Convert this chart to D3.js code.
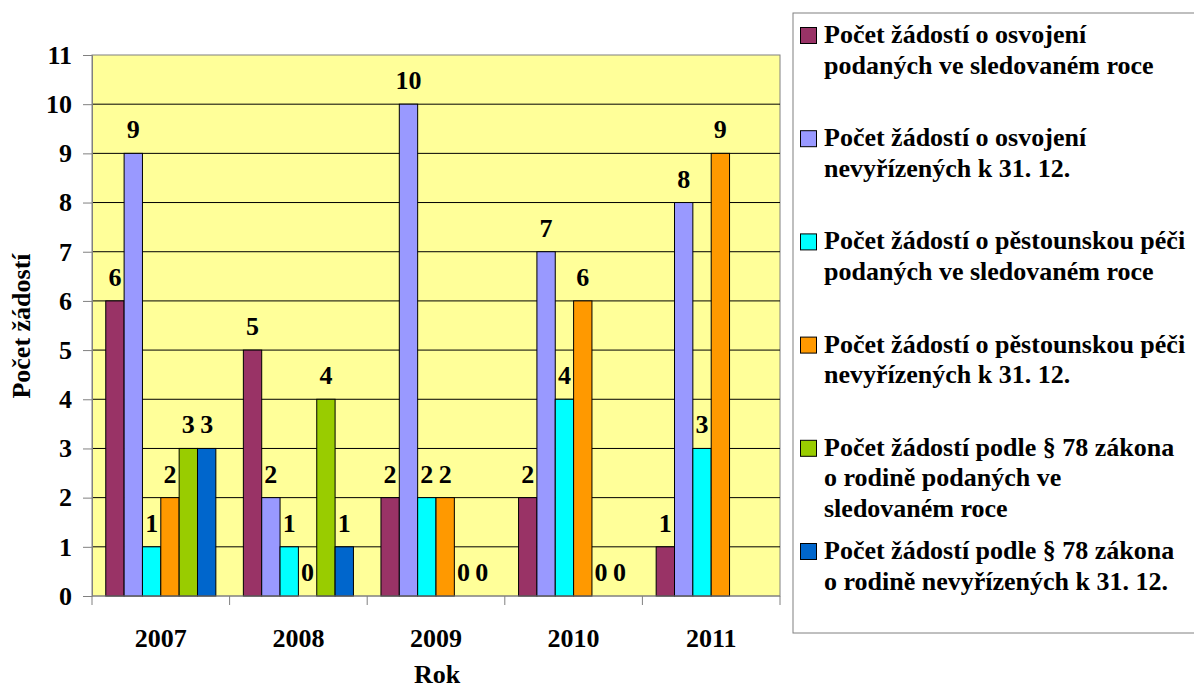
<!DOCTYPE html>
<html>
<head>
<meta charset="utf-8">
<script src="https://cdn.jsdelivr.net/npm/d3@7"></script>
<style>
  body { margin: 0; background: #fff; }
  text { font-family: "Liberation Serif", "Times New Roman", serif; font-weight: bold; }
</style>
</head>
<body>
<svg id="chart" width="1194" height="689"></svg>
<script>
var years = ["2007", "2008", "2009", "2010", "2011"];
var seriesNames = [
  ["Počet žádostí o osvojení", "podaných ve sledovaném roce"],
  ["Počet žádostí o osvojení", "nevyřízených k 31. 12."],
  ["Počet žádostí o pěstounskou péči", "podaných ve sledovaném roce"],
  ["Počet žádostí o pěstounskou péči", "nevyřízených k 31. 12."],
  ["Počet žádostí podle § 78 zákona", "o rodině podaných ve", "sledovaném roce"],
  ["Počet žádostí podle § 78 zákona", "o rodině nevyřízených k 31. 12."]
];
var colors = ["#993366", "#9999FF", "#00FFFF", "#FF9900", "#99CC00", "#0066CC"];
// values per series, one per year (null = not shown)
var adoptFiled   = [6, 5, 2, 2, 1];
var adoptPending = [9, 2, 10, 7, 8];
var fosterFiled  = [1, 1, 2, 4, 3];
var fosterPending = [2, 0, 2, 6, 9];
var par78Filed   = [3, 4, 0, 0, null];
var par78Pending = [3, 1, 0, 0, null];
var yTicks = [0, 1, 2, 3, 4, 5, 6, 7, 8, 9, 10, 11];

var series = [adoptFiled, adoptPending, fosterFiled, fosterPending, par78Filed, par78Pending];

var svg = d3.select("#chart");
var plotL = 92, plotR = 780, plotT = 55, plotB = 596;
var fs = 26;

var x0 = d3.scaleBand().domain(years).range([plotL, plotR]).paddingInner(0).paddingOuter(0);
var x1 = d3.scaleBand().domain(d3.range(series.length))
  .range([0, x0.bandwidth()]).paddingOuter(0.75).paddingInner(0);
var y = d3.scaleLinear().domain([0, 11]).range([plotB, plotT]);

// plot area
svg.append("rect")
  .attr("x", plotL).attr("y", plotT)
  .attr("width", plotR - plotL).attr("height", plotB - plotT)
  .attr("fill", "#FFFF99").attr("stroke", "#808080").attr("stroke-width", 1);

// gridlines
svg.append("g").selectAll("line")
  .data(yTicks.filter(function(d) { return d > 0 && d < 11; }))
  .enter().append("line")
  .attr("x1", plotL).attr("x2", plotR)
  .attr("y1", function(d) { return y(d); }).attr("y2", function(d) { return y(d); })
  .attr("stroke", "#000").attr("stroke-width", 1);

// bars
var groups = svg.append("g").selectAll("g")
  .data(years).enter().append("g")
  .attr("transform", function(d) { return "translate(" + x0(d) + ",0)"; });

groups.each(function(year, yi) {
  var g = d3.select(this);
  series.forEach(function(s, si) {
    var v = s[yi];
    if (v === null) return;
    if (v > 0) {
      g.append("rect")
        .attr("x", x1(si)).attr("y", y(v))
        .attr("width", x1.bandwidth()).attr("height", y(0) - y(v))
        .attr("fill", colors[si]).attr("stroke", "#000").attr("stroke-width", 1);
    }
    g.append("text")
      .attr("x", x1(si) + x1.bandwidth() / 2).attr("y", y(v) - 15)
      .attr("text-anchor", "middle").attr("font-size", fs)
      .text(v);
  });
});

// y axis
var yAxis = d3.axisLeft(y).tickValues(yTicks).tickSize(9).tickPadding(11).tickFormat(d3.format("d"));
var ya = svg.append("g").attr("transform", "translate(" + plotL + ",0)").call(yAxis);
ya.select(".domain").attr("stroke", "#808080");
ya.selectAll(".tick line").attr("stroke", "#808080");
ya.selectAll(".tick text").attr("font-size", fs).attr("fill", "#000")
  .attr("font-family", "Liberation Serif, serif").attr("font-weight", "bold");

// x axis
var xTickPos = years.map(function(d) { return x0(d); }).concat([plotR]);
var xa = svg.append("g");
xa.append("line").attr("x1", plotL).attr("x2", plotR).attr("y1", plotB).attr("y2", plotB)
  .attr("stroke", "#808080");
xa.selectAll(".xt").data(xTickPos).enter().append("line")
  .attr("x1", function(d) { return d; }).attr("x2", function(d) { return d; })
  .attr("y1", plotB).attr("y2", plotB + 9).attr("stroke", "#808080");
xa.selectAll(".xl").data(years).enter().append("text")
  .attr("x", function(d) { return x0(d) + x0.bandwidth() / 2; }).attr("y", 647)
  .attr("text-anchor", "middle").attr("font-size", fs).text(function(d) { return d; });

// axis titles
svg.append("text").attr("x", 437).attr("y", 683).attr("text-anchor", "middle")
  .attr("font-size", fs).text("Rok");
svg.append("text").attr("transform", "translate(30,326) rotate(-90)")
  .attr("text-anchor", "middle").attr("font-size", fs).text("Počet žádostí");

// legend
var legend = svg.append("g");
legend.append("rect").attr("x", 793).attr("y", 13).attr("width", 420).attr("height", 620)
  .attr("fill", "#fff").attr("stroke", "#808080").attr("stroke-width", 1);
seriesNames.forEach(function(lines, i) {
  var by = 43 + i * 103.2;
  legend.append("rect").attr("x", 800.5).attr("y", by - 15.5).attr("width", 16).attr("height", 16)
    .attr("fill", colors[i]).attr("stroke", "#000").attr("stroke-width", 1);
  var t = legend.append("text").attr("x", 824).attr("y", by).attr("font-size", fs);
  lines.forEach(function(line, li) {
    t.append("tspan").attr("x", 824).attr("dy", li === 0 ? 0 : 30.5).text(line);
  });
});
</script>
</body>
</html>
